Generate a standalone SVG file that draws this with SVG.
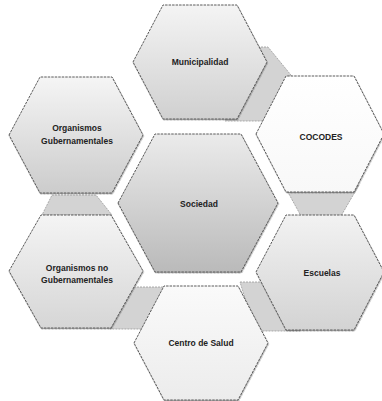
<svg xmlns="http://www.w3.org/2000/svg" width="382" height="401" viewBox="0 0 382 401">
<defs>
<linearGradient id="gMun" x1="0" y1="0" x2="0" y2="1"><stop offset="0" stop-color="#f4f4f4"/><stop offset="1" stop-color="#d0d0d0"/></linearGradient>
<linearGradient id="gSoc" x1="0" y1="0" x2="0" y2="1"><stop offset="0" stop-color="#ebebeb"/><stop offset="1" stop-color="#bababa"/></linearGradient>
<linearGradient id="gGub" x1="0" y1="0" x2="0" y2="1"><stop offset="0" stop-color="#f5f5f5"/><stop offset="1" stop-color="#cccccc"/></linearGradient>
<linearGradient id="gCoc" x1="0" y1="0" x2="0" y2="1"><stop offset="0" stop-color="#ffffff"/><stop offset="1" stop-color="#f8f8f8"/></linearGradient>
<linearGradient id="gOng" x1="0" y1="0" x2="0" y2="1"><stop offset="0" stop-color="#f4f4f4"/><stop offset="1" stop-color="#d6d6d6"/></linearGradient>
<linearGradient id="gEsc" x1="0" y1="0" x2="0" y2="1"><stop offset="0" stop-color="#f2f2f2"/><stop offset="1" stop-color="#d3d3d3"/></linearGradient>
<linearGradient id="gCen" x1="0" y1="0" x2="0" y2="1"><stop offset="0" stop-color="#fafafa"/><stop offset="1" stop-color="#ececec"/></linearGradient>
<filter id="sh" x="-10%" y="-10%" width="120%" height="120%"><feDropShadow dx="0.5" dy="1" stdDeviation="0.5" flood-color="#444" flood-opacity="0.45"/></filter>
</defs>
<style>
.hex{stroke:#5a5a5a;stroke-width:1;stroke-dasharray:2.5 1;filter:url(#sh)}
.gap{fill:#d3d3d3;stroke:#9a9a9a;stroke-width:0.8;stroke-dasharray:2 1}
.t{font-family:"Liberation Sans","DejaVu Sans",sans-serif;font-weight:bold;font-size:8.5px;fill:#222;text-anchor:middle}
</style>
<g id="connectors">
<polygon class="gap" points="255,47 268,47 295,80 270,121 225,121"/>
<polygon class="gap" points="284,185 359,185 341,216 301,216"/>
<polygon class="gap" points="52,195 96,195 112,215 42,215"/>
<polygon class="gap" points="240,282 270,282 300,331 255,331"/>
<polygon class="gap" points="125,287 168,287 142,329 110,329"/>
</g>
<g id="municipalidad">
<polygon class="hex" fill="url(#gMun)" points="133,62 163,5 237,5 267,62 237,119 163,119"/>
<text class="t" x="200" y="65">Municipalidad</text>
</g>
<g id="cocodes">
<polygon class="hex" fill="url(#gCoc)" points="256,134 286,76 354,76 384,134 354,192 286,192"/>
<text class="t" x="321" y="140">COCODES</text>
</g>
<g id="gubernamentales">
<polygon class="hex" fill="url(#gGub)" points="9,135 40,77 112,77 143,135 112,193 40,193"/>
<text class="t" x="77" y="131">Organismos</text>
<text class="t" x="77" y="144">Gubernamentales</text>
</g>
<g id="sociedad">
<polygon class="hex" fill="url(#gSoc)" points="118,203 155,134 241,134 278,203 241,272 155,272"/>
<text class="t" x="199" y="207">Sociedad</text>
</g>
<g id="no-gubernamentales">
<polygon class="hex" fill="url(#gOng)" points="9,271 41,215 111,215 143,271 111,328 41,328"/>
<text class="t" x="77" y="271">Organismos no</text>
<text class="t" x="77" y="283">Gubernamentales</text>
</g>
<g id="escuelas">
<polygon class="hex" fill="url(#gEsc)" points="256,272 286,215 354,215 384,272 354,330 286,330"/>
<text class="t" x="322" y="276">Escuelas</text>
</g>
<g id="centro-salud">
<polygon class="hex" fill="url(#gCen)" points="134,343 164,286 238,286 268,343 238,400 164,400"/>
<text class="t" x="201" y="346">Centro de Salud</text>
</g>
</svg>
